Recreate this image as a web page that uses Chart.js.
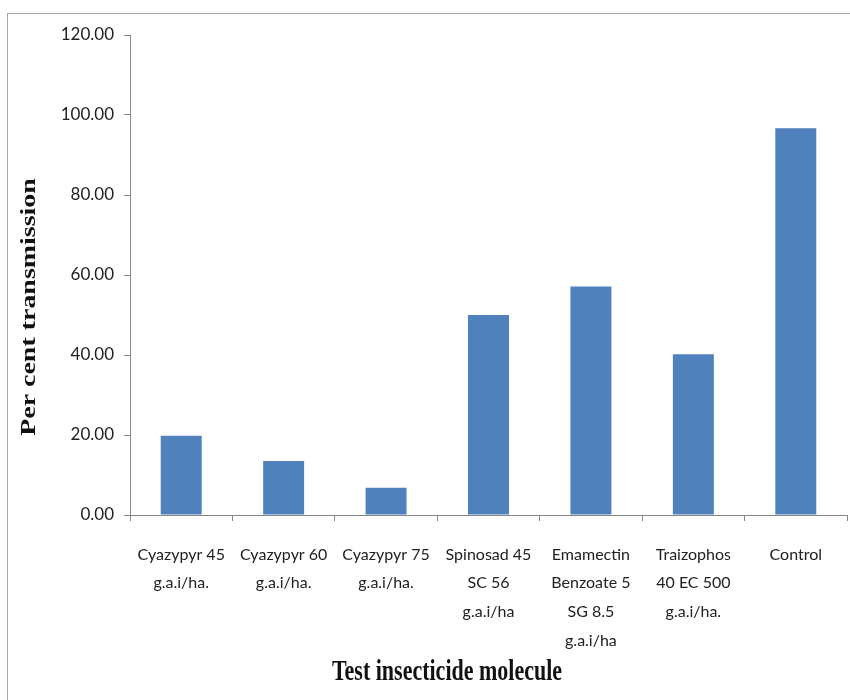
<!DOCTYPE html>
<html>
<head>
<meta charset="utf-8">
<script src="https://cdn.jsdelivr.net/npm/chart.js@4"></script>
<style>
  body { margin: 0; background: #fff; }
  #wrap { position: relative; width: 850px; height: 700px; overflow: hidden; }
  #frame { position: absolute; left: 7px; top: 13px; width: 900px; height: 720px; border: 1px solid #a8a8a8; }
  #chart { position: absolute; left: 0; top: 0; }
</style>
</head>
<body>
<div id="wrap">
  <div id="frame"></div>
  <canvas id="chart" width="850" height="700"></canvas>
</div>
<script>
const categories = [
  ['Cyazypyr 45', 'g.a.i/ha.'],
  ['Cyazypyr 60', 'g.a.i/ha.'],
  ['Cyazypyr 75', 'g.a.i/ha.'],
  ['Spinosad 45', 'SC 56', 'g.a.i/ha'],
  ['Emamectin', 'Benzoate 5', 'SG 8.5', 'g.a.i/ha'],
  ['Traizophos', '40 EC 500', 'g.a.i/ha.'],
  ['Control']
];
const transmission = [19.8, 13.5, 6.8, 50.0, 57.1, 40.2, 96.7];
const yTicks = [0, 20, 40, 60, 80, 100, 120];
const xTitle = 'Test insecticide molecule';
const yTitle = 'Per cent transmission';

const axisColor = '#868686';

// titles are drawn by hand: the original text is stretched vertically
const axisTitles = {
  id: 'axisTitles',
  afterDraw(chart) {
    const ctx = chart.ctx;
    ctx.save();
    ctx.fillStyle = '#111';
    ctx.textAlign = 'center';
    ctx.textBaseline = 'middle';

    ctx.save();
    ctx.font = 'bold 22px "Liberation Serif", serif';
    ctx.translate(447, 673);
    ctx.scale(1, 1.3);
    ctx.fillText(xTitle, 0, 0);
    ctx.restore();

    ctx.save();
    ctx.font = 'bold 21px "Liberation Serif", serif';
    ctx.translate(30, 307);
    ctx.rotate(-Math.PI / 2);
    ctx.scale(1.33, 1);
    ctx.fillText(yTitle, 0, 0);
    ctx.restore();

    ctx.restore();
  }
};

new Chart(document.getElementById('chart'), {
  type: 'bar',
  data: {
    labels: categories,
    datasets: [{
      data: transmission,
      backgroundColor: '#4f81bd',
      borderWidth: 0,
      barPercentage: 0.4,
      categoryPercentage: 1
    }]
  },
  options: {
    responsive: false,
    animation: false,
    layout: { padding: { left: 0, right: 3, top: 35, bottom: 0 } },
    plugins: { legend: { display: false }, tooltip: { enabled: false } },
    scales: {
      x: {
        grid: { drawOnChartArea: false, tickLength: 6, color: axisColor, offset: true },
        border: { color: axisColor },
        ticks: {
          font: { family: 'Lato, "Open Sans", sans-serif', size: 16, lineHeight: 1.8 },
          color: '#222', padding: 19, maxRotation: 0, autoSkip: false
        },
        afterFit(scale) { scale.height = 185; }
      },
      y: {
        min: 0,
        max: 120,
        afterBuildTicks(scale) { scale.ticks = yTicks.map(v => ({ value: v })); },
        grid: { drawOnChartArea: false, tickLength: 6, color: axisColor },
        border: { color: axisColor },
        ticks: {
          font: { family: 'Lato, "Open Sans", sans-serif', size: 17 },
          color: '#222', padding: 10, callback: v => Number(v).toFixed(2)
        },
        afterFit(scale) { scale.width = 130; }
      }
    }
  },
  plugins: [axisTitles]
});
</script>
</body>
</html>
